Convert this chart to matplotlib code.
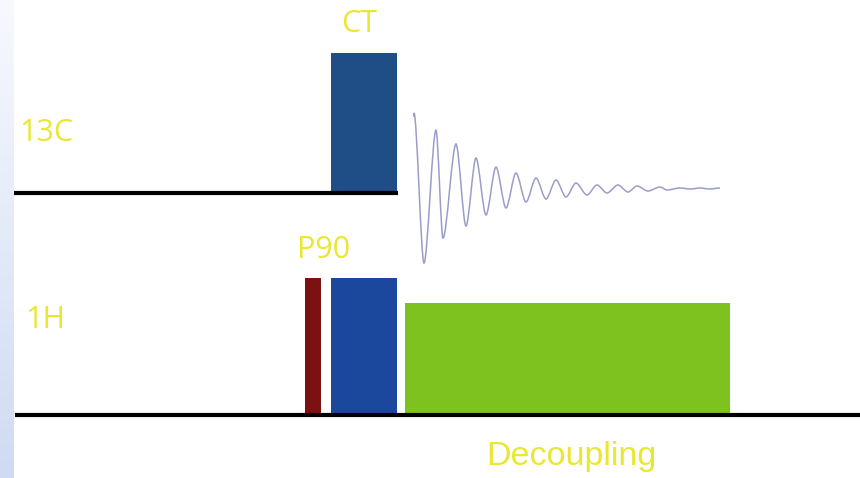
import numpy as np
import matplotlib
matplotlib.use("Agg")
import matplotlib.pyplot as plt
from matplotlib.patches import Rectangle, PathPatch
from matplotlib.path import Path
from matplotlib.colors import LinearSegmentedColormap

# ---- data (pixel-space diagram coordinates) ----
channels = ["13C", "1H"]
channel_baseline_y = [193, 415]
channel_line_x = [(14, 398), (15, 860)]

pulse_labels = ["CT", "P90", "CT1H", "Decoupling"]
pulse_channel = [0, 1, 1, 1]
pulse_start = [331, 305, 331, 405]
pulse_end = [397, 321, 397, 730]
pulse_top = [53, 278, 278, 303]
pulse_colors = ["#1f4e86", "#7c1112", "#1b489c", "#7dc21f"]

# FID extrema
fid_x = [414, 424, 436, 443, 456, 466, 476, 486, 496, 506, 516, 526, 536,
         546, 556, 566, 576, 587, 597, 607, 618, 628, 637, 648, 660, 667, 680,
         690, 700, 710, 720]
fid_y = [113, 263, 130, 238, 144, 226, 158, 215, 167, 208, 173, 202, 178,
         199, 180, 197, 183, 195, 185, 193, 185, 192, 186, 191, 187, 190, 188,
         189, 188, 189, 188]

W, H = 860, 478
fig = plt.figure(figsize=(W / 100, H / 100), dpi=100)
ax = fig.add_axes([0, 0, 1, 1])
ax.set_xlim(0, W)
ax.set_ylim(H, 0)
ax.axis("off")

# left gradient strip
grad = np.linspace(0, 1, 256).reshape(-1, 1)
cm = LinearSegmentedColormap.from_list("strip", ["#f7f9fe", "#cfdbf3"])
ax.imshow(grad, cmap=cm, extent=(0, 14, H, 0), aspect="auto", zorder=0)

# pulses
for lab, ch, x0, x1, top, col in zip(pulse_labels, pulse_channel, pulse_start,
                                    pulse_end, pulse_top, pulse_colors):
    base = channel_baseline_y[ch] - 2
    ax.add_patch(Rectangle((x0, top), x1 - x0, base - top, facecolor=col,
                           edgecolor="none", zorder=2))

# baselines
for y, (x0, x1) in zip(channel_baseline_y, channel_line_x):
    ax.plot([x0, x1], [y, y], color="black", lw=3.0, solid_capstyle="butt", zorder=3)

# FID drawn as a Bezier path through its extrema (flat tangents at each extremum)
verts = [(fid_x[0], fid_y[0] + 4), (fid_x[0], fid_y[0])]
codes = [Path.MOVETO, Path.LINETO]
for i in range(1, len(fid_x)):
    x0, y0 = fid_x[i - 1], fid_y[i - 1]
    x1, y1 = fid_x[i], fid_y[i]
    dx = x1 - x0
    verts += [(x0 + dx * 0.3, y0), (x1 - dx * 0.3, y1), (x1, y1)]
    codes += [Path.CURVE4] * 3
ax.add_patch(PathPatch(Path(verts, codes), facecolor="none", edgecolor="#9c9cca",
                       lw=1.1, zorder=2))

yellow = "#e8e834"
hfont = ["Open Sans", "DejaVu Sans"]
ax.text(46, 133, "13C", color=yellow, fontsize=22, family=hfont, ha="center", va="center")
ax.text(45, 320, "1H", color=yellow, fontsize=22, family=hfont, ha="center", va="center")
ax.text(359, 24, "CT", color=yellow, fontsize=22, family=hfont, ha="center", va="center")
ax.text(324, 250, "P90", color=yellow, fontsize=22, family=hfont, ha="center", va="center")
ax.text(571, 457, "Decoupling", color=yellow, fontsize=24.5,
        family=["Liberation Sans", "DejaVu Sans"], ha="center", va="center")

fig.savefig("out.png", dpi=100)
